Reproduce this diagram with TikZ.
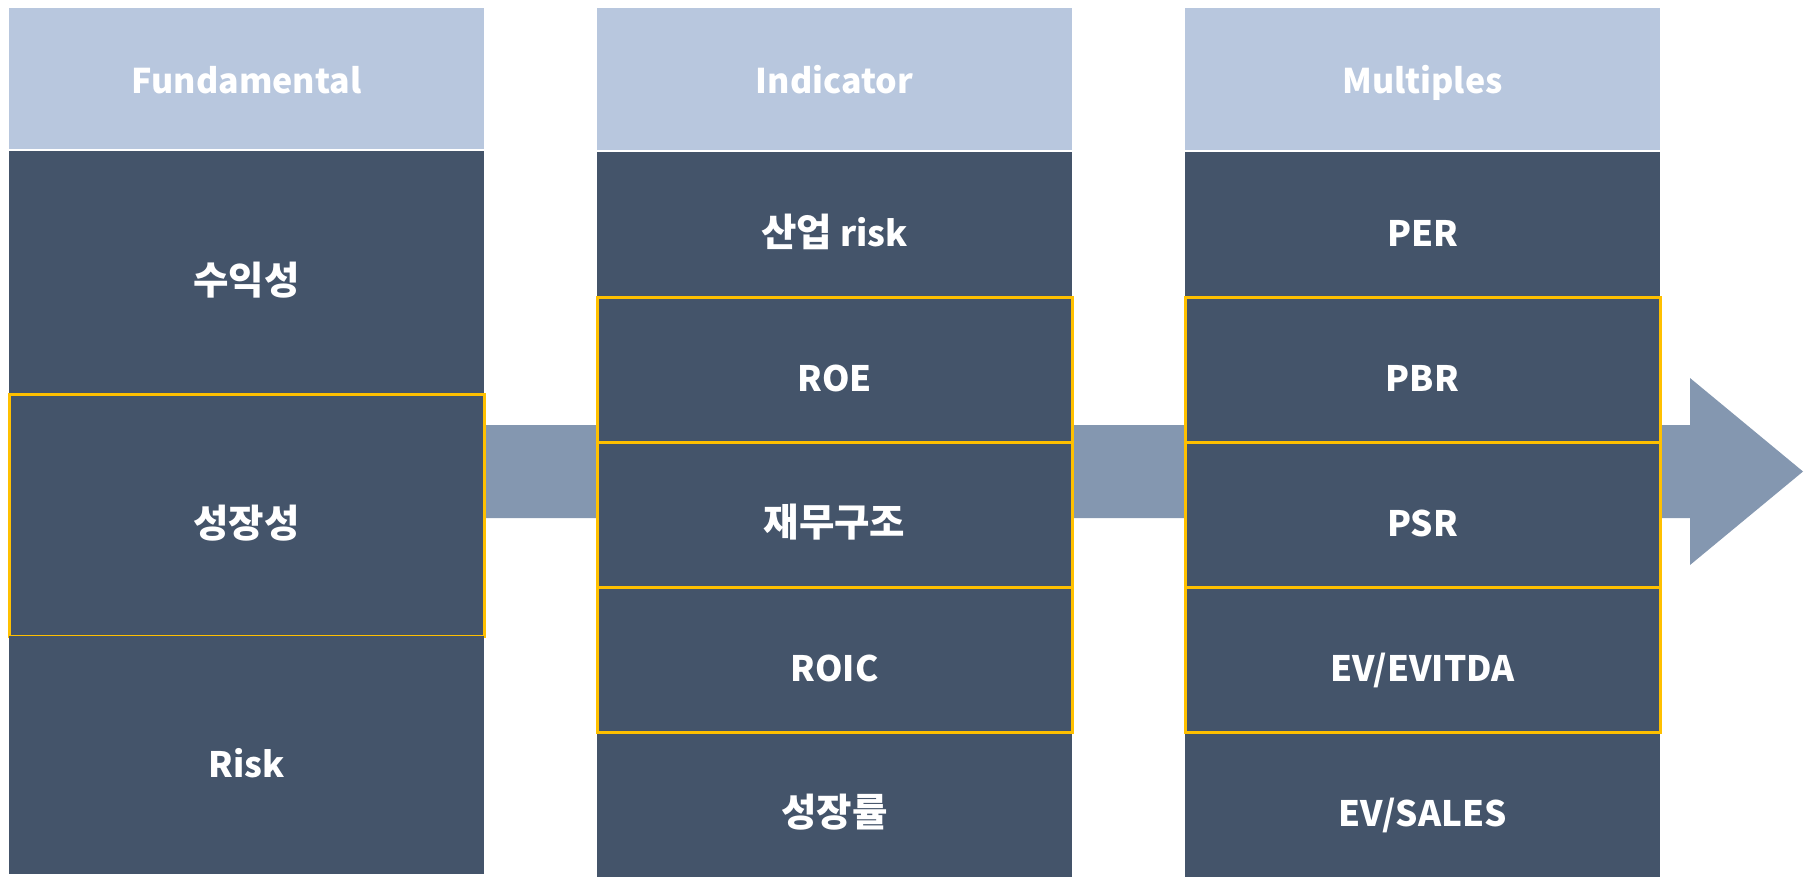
\documentclass[tikz,border=0pt]{standalone}
\usepackage{fontspec}
\setmainfont{Noto Sans CJK KR}
\newcommand{\ko}[1]{{\fontsize{38.5}{44}\selectfont #1}}
\definecolor{hdrc}{HTML}{B8C7DE}
\definecolor{darkc}{HTML}{44546A}
\definecolor{arrc}{HTML}{8497B0}
\definecolor{goldc}{HTML}{FFC000}
\tikzset{
  cell/.style={fill=darkc, text=white, font=\bfseries\fontsize{35}{42}\selectfont, inner sep=0pt, outer sep=0pt, minimum width=475pt, text height=44pt, text depth=0pt, anchor=north west},
  hdr/.style={fill=hdrc, text=white, font=\bfseries\fontsize{34}{40}\selectfont, inner sep=0pt, outer sep=0pt, minimum width=475pt, minimum height=141pt, text height=29pt, text depth=0pt, anchor=north west},
  gold/.style={draw=goldc, line width=3pt},
  flow/.style={fill=arrc, draw=none}
}
\begin{document}
\begin{tikzpicture}[x=1pt,y=-1pt]
\useasboundingbox (0,0) rectangle (1811,876);
% arrow behind
\coordinate (a0) at (484,425);
\coordinate (tip) at (1803,471.5);
\fill[arrc] (a0) -- (1690,425) -- (1690,378) -- (tip) -- (1690,565) -- (1690,518) -- (484,518) -- cycle;
% column 1
\node[hdr] (h1) at (9,8) {Fundamental};
\node[cell, minimum height=243pt] (f1) at (9,151) {\ko{수익성}};
\node[cell, minimum height=242pt, gold] (f2) at (9,394) {\ko{성장성}};
\node[cell, minimum height=238pt] (f3) at (9,636) {Risk};
% column 2
\node[hdr, minimum height=142pt] (h2) at (597,8) {Indicator};
\node[cell, minimum height=145pt] (i1) at (597,152) {\ko{산업} risk};
\node[cell, minimum height=145pt] (i5) at (597,732) {\ko{성장률}};
\node[cell, minimum height=145pt, gold] (i2) at (597,297) {ROE};
\node[cell, minimum height=145pt, gold] (i3) at (597,442) {\ko{재무구조}};
\node[cell, minimum height=145pt, gold] (i4) at (597,587) {ROIC};
% column 3
\node[hdr, minimum height=142pt] (h3) at (1185,8) {Multiples};
\node[cell, minimum height=145pt] (m1) at (1185,152) {PER};
\node[cell, minimum height=145pt] (m5) at (1185,732) {EV/SALES};
\node[cell, minimum height=145pt, gold] (m2) at (1185,297) {PBR};
\node[cell, minimum height=145pt, gold] (m3) at (1185,442) {PSR};
\node[cell, minimum height=145pt, gold] (m4) at (1185,587) {EV/EVITDA};
\end{tikzpicture}
\end{document}
